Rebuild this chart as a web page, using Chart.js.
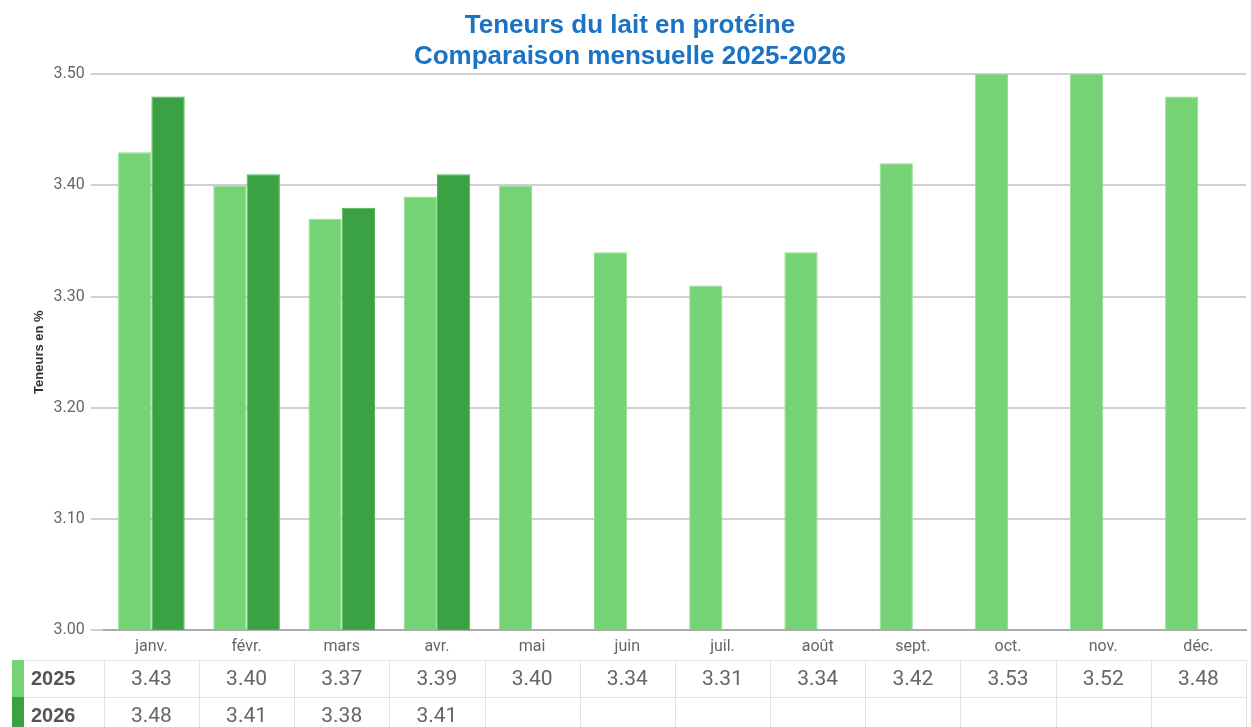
<!DOCTYPE html>
<html>
<head>
<meta charset="utf-8">
<script src="https://cdn.jsdelivr.net/npm/chart.js@4"></script>
<style>
  html, body { margin: 0; padding: 0; background: #fff; }
  #wrap { width: 1251px; height: 727px; position: relative; }
</style>
</head>
<body>
<div id="wrap"><canvas id="proteinChart"></canvas></div>
<script>
const months = ['janv.', 'févr.', 'mars', 'avr.', 'mai', 'juin', 'juil.', 'août', 'sept.', 'oct.', 'nov.', 'déc.'];
const values2025 = [3.43, 3.40, 3.37, 3.39, 3.40, 3.34, 3.31, 3.34, 3.42, 3.53, 3.52, 3.48];
const values2026 = [3.48, 3.41, 3.38, 3.41, null, null, null, null, null, null, null, null];
const yTicks = [3.00, 3.10, 3.20, 3.30, 3.40, 3.50];

const color2025 = '#75d375';
const color2026 = '#3ba244';

// tableau de valeurs sous le graphique, aligné sur l'axe x
const dataTable = {
  id: 'dataTable',
  afterDraw(chart) {
    const ctx = chart.ctx;
    const x = chart.scales.x;
    const step = (x.right - x.left) / months.length;
    const rows = [
      { label: '2025', color: color2025, data: values2025 },
      { label: '2026', color: color2026, data: values2026 }
    ];
    const top = 660, rowH = 37;
    const edges = [];
    for (let i = 0; i <= months.length; i++) edges.push(Math.round(x.left + i * step) + 0.5);
    ctx.save();
    ctx.strokeStyle = '#e3e3e3';
    ctx.lineWidth = 1;
    // lignes horizontales
    [top, top + rowH].forEach(y => {
      ctx.beginPath();
      ctx.moveTo(24, y + 0.5);
      ctx.lineTo(edges[edges.length - 1], y + 0.5);
      ctx.stroke();
    });
    // lignes verticales
    edges.forEach(ex => {
      ctx.beginPath();
      ctx.moveTo(ex, top);
      ctx.lineTo(ex, 727);
      ctx.stroke();
    });
    rows.forEach((row, r) => {
      const y0 = top + r * rowH;
      ctx.fillStyle = row.color;
      ctx.fillRect(12, y0, 12, rowH);
      ctx.fillStyle = '#555';
      ctx.font = 'bold 20px "Liberation Sans", Arial, sans-serif';
      ctx.textAlign = 'left';
      ctx.textBaseline = 'middle';
      ctx.fillText(row.label, 31, y0 + rowH / 2 + 1);
      ctx.font = '21px Roboto, "Liberation Sans", sans-serif';
      ctx.textAlign = 'center';
      months.forEach((m, i) => {
        const v = row.data[i];
        if (v !== null) {
          ctx.fillStyle = '#666';
          ctx.fillText(v.toFixed(2), x.getPixelForValue(i), y0 + rowH / 2 + 1);
        }
      });
    });
    ctx.restore();
  }
};

new Chart(document.getElementById('proteinChart'), {
  type: 'bar',
  data: {
    labels: months,
    datasets: [
      { label: '2025', data: values2025, backgroundColor: color2025, borderColor: '#8fe08f', borderWidth: 1 },
      { label: '2026', data: values2026, backgroundColor: color2026, borderColor: '#4cb554', borderWidth: 1 }
    ]
  },
  plugins: [dataTable],
  options: {
    responsive: true,
    maintainAspectRatio: false,
    animation: false,
    layout: { padding: { left: 14, right: 5, top: 0, bottom: 70 } },
    datasets: { bar: { categoryPercentage: 0.7, barPercentage: 1.0 } },
    plugins: {
      legend: { display: false },
      tooltip: { enabled: false },
      title: {
        display: true,
        text: ['Teneurs du lait en protéine', 'Comparaison mensuelle 2025-2026'],
        color: '#1a73c4',
        font: { family: '"Liberation Sans", Arial, sans-serif', size: 26, weight: 'bold' },
        lineHeight: 1.25,
        padding: { top: 10, bottom: 2 }
      }
    },
    scales: {
      x: {
        grid: { display: false },
        border: { color: '#aaa', width: 2 },
        ticks: { color: '#666', font: { family: 'Roboto, sans-serif', size: 16 }, padding: 0 }
      },
      y: {
        min: 3.0,
        max: 3.5,
        afterBuildTicks(axis) { axis.ticks = yTicks.map(v => ({ value: v })); },
        grid: { color: '#d0d0d0', lineWidth: 2, tickLength: 13 },
        border: { display: false },
        ticks: {
          color: '#666',
          font: { family: 'Roboto, sans-serif', size: 16 },
          padding: 6,
          callback: v => v.toFixed(2)
        },
        title: {
          display: true,
          text: 'Teneurs en %',
          color: '#333',
          font: { family: '"Liberation Sans", Arial, sans-serif', size: 13, weight: 'bold' },
          padding: { top: 18, bottom: 0 }
        }
      }
    }
  }
});
</script>
</body>
</html>
